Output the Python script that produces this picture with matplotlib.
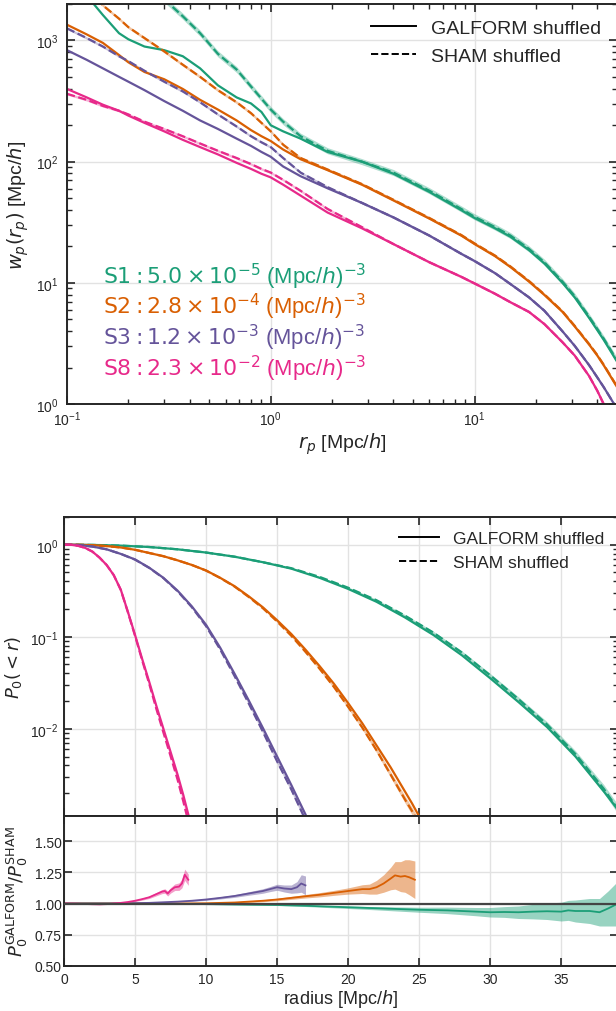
import numpy as np
import matplotlib
matplotlib.use("Agg")
import matplotlib.pyplot as plt
from matplotlib.lines import Line2D
from matplotlib.ticker import FixedLocator

plt.rcParams['font.family'] = ['Liberation Sans', 'DejaVu Sans']
plt.rcParams['mathtext.fontset'] = 'dejavusans'

samples = ['S1', 'S2', 'S3', 'S8']
colors = ['#1b9e77', '#d95f02', '#65549a', '#e7298a']
densities = [r'5.0\times10^{-5}', r'2.8\times10^{-4}', r'1.2\times10^{-3}', r'2.3\times10^{-2}']

# ---- projected correlation function, log10 wp ----
rp = [0.1, 0.125, 0.15, 0.18, 0.2, 0.24, 0.3, 0.37, 0.45, 0.55, 0.68, 0.8, 0.9, 1.0,
      1.15, 1.4, 1.9, 2.8, 4, 6, 8.6, 10, 12.6, 15, 18.5, 22, 27, 31, 36.5, 40, 43, 46, 50]

wp_galform = {
    'S1': [3.56, 3.37, 3.21, 3.06, 3.01, 2.95, 2.92, 2.87, 2.77, 2.63, 2.53, 2.48, 2.41, 2.30,
           2.25, 2.19, 2.08, 2.00, 1.90, 1.75, 1.60, 1.535, 1.45, 1.38, 1.27, 1.16, 1.00, 0.88,
           0.71, 0.61, 0.53, 0.45, 0.35],
    'S2': [3.13, 3.05, 2.98, 2.88, 2.82, 2.74, 2.68, 2.60, 2.51, 2.43, 2.34, 2.26, 2.21, 2.17,
           2.10, 2.02, 1.93, 1.81, 1.68, 1.53, 1.39, 1.32, 1.22, 1.13, 1.01, 0.90, 0.76, 0.64,
           0.49, 0.40, 0.32, 0.24, 0.14],
    'S3': [2.92, 2.84, 2.77, 2.70, 2.66, 2.59, 2.50, 2.42, 2.34, 2.27, 2.19, 2.13, 2.08, 2.04,
           1.96, 1.88, 1.78, 1.66, 1.54, 1.39, 1.24, 1.18, 1.08, 0.99, 0.88, 0.77, 0.60, 0.48,
           0.32, 0.22, 0.14, 0.06, -0.04],
    'S8': [2.60, 2.53, 2.47, 2.42, 2.38, 2.32, 2.25, 2.18, 2.12, 2.06, 1.99, 1.94, 1.90, 1.87,
           1.81, 1.72, 1.58, 1.45, 1.32, 1.17, 1.05, 0.995, 0.91, 0.84, 0.76, 0.66, 0.51, 0.40,
           0.23, 0.11, 0.00, -0.10, -0.22],
}
wp_sham = {
    'S1': [4.20, 4.00, 3.85, 3.70, 3.62, 3.48, 3.34, 3.20, 3.06, 2.89, 2.76, 2.62, 2.52, 2.43,
           2.33, 2.21, 2.09, 2.00, 1.91, 1.76, 1.61, 1.545, 1.46, 1.39, 1.28, 1.17, 1.01, 0.89,
           0.72, 0.62, 0.54, 0.46, 0.36],
    'S2': [3.52, 3.42, 3.29, 3.18, 3.11, 3.02, 2.91, 2.80, 2.70, 2.59, 2.49, 2.40, 2.32, 2.25,
           2.14, 2.03, 1.935, 1.815, 1.685, 1.535, 1.395, 1.325, 1.225, 1.135, 1.015, 0.905,
           0.765, 0.645, 0.495, 0.405, 0.325, 0.245, 0.145],
    'S3': [3.10, 3.02, 2.95, 2.87, 2.83, 2.75, 2.66, 2.58, 2.49, 2.39, 2.29, 2.21, 2.16, 2.12,
           2.03, 1.91, 1.79, 1.66, 1.54, 1.39, 1.24, 1.18, 1.08, 0.99, 0.88, 0.77, 0.60, 0.48,
           0.32, 0.22, 0.14, 0.06, -0.04],
    'S8': [2.56, 2.51, 2.46, 2.42, 2.39, 2.33, 2.27, 2.21, 2.15, 2.09, 2.03, 1.98, 1.94, 1.91,
           1.85, 1.76, 1.61, 1.46, 1.32, 1.17, 1.05, 0.995, 0.91, 0.84, 0.76, 0.66, 0.51, 0.40,
           0.23, 0.11, 0.00, -0.10, -0.22],
}
wp_band_dex = {'S1': 0.025, 'S2': 0.012, 'S3': 0.01, 'S8': 0.01}

# ---- void probability function, log10 P0 ----
p0_r = {
    'S1': [0, 2, 4, 6, 8, 10, 12, 14, 16, 18, 20, 22, 24, 26, 28, 30, 32, 34, 36, 38, 39],
    'S2': [0, 1, 2, 3, 4, 5, 6, 7, 8, 9, 10, 11, 12, 13, 14, 15, 16, 17, 18, 19, 20, 21, 22,
           23, 24, 24.5, 25],
    'S3': [0, 1, 2, 3, 4, 5, 6, 7, 8, 9, 10, 11, 12, 13, 14, 15, 16, 17, 17.3],
    'S8': [0, 0.5, 1, 1.5, 2, 2.5, 3, 3.5, 4, 4.5, 5, 5.5, 6, 6.5, 7, 7.5, 8, 8.4, 8.8],
}
p0_galform = {
    'S1': [0, -0.002, -0.01, -0.025, -0.05, -0.085, -0.13, -0.19, -0.26, -0.36, -0.48, -0.62,
           -0.79, -0.98, -1.20, -1.45, -1.71, -1.98, -2.30, -2.68, -2.88],
    'S2': [0, -0.001, -0.005, -0.015, -0.03, -0.055, -0.09, -0.125, -0.17, -0.22, -0.28, -0.36,
           -0.45, -0.56, -0.68, -0.82, -0.97, -1.14, -1.32, -1.51, -1.72, -1.94, -2.18, -2.42,
           -2.68, -2.81, -2.95],
    'S3': [0, -0.003, -0.02, -0.05, -0.10, -0.16, -0.25, -0.36, -0.50, -0.67, -0.87, -1.12,
           -1.40, -1.69, -1.99, -2.30, -2.61, -2.93, -3.03],
    'S8': [0, -0.001, -0.012, -0.035, -0.075, -0.14, -0.22, -0.33, -0.49, -0.73, -0.98, -1.24,
           -1.49, -1.75, -2.00, -2.25, -2.50, -2.72, -2.96],
}
p0_sham = {
    'S1': [0, -0.002, -0.01, -0.025, -0.05, -0.085, -0.13, -0.19, -0.255, -0.35, -0.467, -0.603,
           -0.77, -0.954, -1.17, -1.418, -1.678, -1.952, -2.273, -2.652, -2.875],
    'S2': [0, -0.001, -0.005, -0.015, -0.03, -0.055, -0.09, -0.125, -0.17, -0.22, -0.281, -0.362,
           -0.454, -0.567, -0.69, -0.834, -0.989, -1.164, -1.349, -1.545, -1.761, -1.987, -2.233,
           -2.499, -2.766, -2.893, -3.027],
    'S3': [0, -0.003, -0.02, -0.05, -0.10, -0.162, -0.252, -0.363, -0.506, -0.679, -0.884, -1.139,
           -1.425, -1.723, -2.031, -2.353, -2.658, -2.99, -3.09],
    'S8': [0, -0.001, -0.012, -0.035, -0.075, -0.14, -0.22, -0.33, -0.492, -0.735, -0.989, -1.255,
           -1.511, -1.783, -2.041, -2.295, -2.555, -2.79, -3.04],
}
p0_band_dex = {
    'S1': [0, 0, 0, 0, 0, 0.002, 0.003, 0.004, 0.005, 0.006, 0.008, 0.01, 0.012, 0.014, 0.017,
           0.02, 0.024, 0.03, 0.036, 0.045, 0.05],
    'S2': [0, 0, 0, 0, 0, 0, 0, 0.001, 0.002, 0.002, 0.003, 0.004, 0.005, 0.006, 0.007, 0.009,
           0.01, 0.012, 0.014, 0.016, 0.018, 0.022, 0.026, 0.032, 0.038, 0.04, 0.042],
    'S3': [0, 0, 0, 0.001, 0.002, 0.003, 0.004, 0.005, 0.006, 0.008, 0.01, 0.012, 0.014, 0.016,
           0.019, 0.022, 0.025, 0.03, 0.032],
    'S8': [0, 0, 0, 0, 0.001, 0.002, 0.003, 0.004, 0.005, 0.006, 0.008, 0.01, 0.012, 0.014,
           0.017, 0.02, 0.023, 0.027, 0.03],
}

# ---- ratio GALFORM / SHAM ----
ratio_r = {
    'S1': [0, 5, 10, 15, 17, 20, 22, 25, 27, 29, 30, 31, 32, 33, 34, 35, 35.5, 36, 37, 37.7, 38.3, 39],
    'S2': [0, 4, 8, 10, 12, 14, 15, 16, 17, 18, 19, 20, 21, 21.5, 22, 22.5, 23, 23.3, 23.7, 24, 24.3, 24.7],
    'S3': [0, 2, 4, 6, 8, 9, 10, 11, 12, 13, 13.5, 14, 14.5, 15, 15.5, 16, 16.4, 16.7, 17.0],
    'S8': [0, 1, 2, 2.5, 3, 3.5, 4, 4.5, 5, 5.5, 6, 6.3, 6.6, 6.9, 7.1, 7.3, 7.5, 7.8, 8.1, 8.3, 8.5, 8.75],
}
ratio_val = {
    'S1': [1.0, 1.0, 0.995, 0.988, 0.982, 0.97, 0.962, 0.95, 0.945, 0.935, 0.93, 0.932, 0.93, 0.935,
           0.938, 0.935, 0.945, 0.94, 0.94, 0.93, 0.96, 1.0],
    'S2': [1.0, 1.0, 1.0, 1.002, 1.008, 1.022, 1.032, 1.045, 1.058, 1.07, 1.085, 1.10, 1.115, 1.115,
           1.13, 1.16, 1.20, 1.225, 1.215, 1.22, 1.21, 1.19],
    'S3': [1.0, 1.0, 1.0, 1.005, 1.015, 1.022, 1.032, 1.045, 1.06, 1.08, 1.09, 1.10, 1.115, 1.13,
           1.12, 1.115, 1.13, 1.16, 1.145],
    'S8': [1.0, 0.998, 0.994, 0.993, 0.995, 1.0, 1.005, 1.012, 1.022, 1.035, 1.05, 1.065, 1.08, 1.095,
           1.10, 1.08, 1.105, 1.13, 1.135, 1.16, 1.23, 1.19],
}
ratio_err = {
    'S1': [0, 0, 0.002, 0.004, 0.006, 0.01, 0.013, 0.02, 0.026, 0.033, 0.038, 0.043, 0.05, 0.058,
           0.066, 0.075, 0.08, 0.088, 0.1, 0.11, 0.14, 0.18],
    'S2': [0, 0, 0.002, 0.003, 0.005, 0.008, 0.01, 0.012, 0.014, 0.017, 0.02, 0.025, 0.035, 0.04,
           0.055, 0.07, 0.09, 0.11, 0.12, 0.13, 0.14, 0.15],
    'S3': [0, 0, 0.001, 0.002, 0.004, 0.005, 0.007, 0.009, 0.011, 0.014, 0.016, 0.018, 0.02, 0.024,
           0.028, 0.033, 0.045, 0.07, 0.075],
    'S8': [0, 0, 0.001, 0.002, 0.002, 0.003, 0.004, 0.005, 0.006, 0.008, 0.01, 0.012, 0.014, 0.016,
           0.018, 0.02, 0.022, 0.026, 0.03, 0.035, 0.045, 0.045],
}

dark = '#262626'
W, H = 616, 1012
fig = plt.figure(figsize=(W / 100, H / 100), dpi=100)

def px_axes(left, top, right, bottom):
    return fig.add_axes([left / W, 1 - bottom / H, (right - left) / W, (bottom - top) / H])

def style(ax, xpad=4, ypad=4):
    for s in ax.spines.values():
        s.set_color(dark)
        s.set_linewidth(1.4)
    ax.tick_params(which='both', direction='in', top=True, right=True, colors=dark, labelsize=10)
    ax.tick_params(axis='x', pad=xpad)
    ax.tick_params(axis='y', pad=ypad)
    ax.tick_params(which='major', length=6, width=1.2)
    ax.tick_params(which='minor', length=3.5, width=1.0)
    ax.grid(True, which='major', color='#e2e2e2', lw=1.0)
    ax.set_axisbelow(True)

handles = [Line2D([], [], color='k', ls='-', lw=1.4), Line2D([], [], color='k', ls='--', lw=1.4)]
names = ['GALFORM shuffled', 'SHAM shuffled']
rticks = [0, 5, 10, 15, 20, 25, 30, 35]

# ----- top panel: wp(rp) -----
ax1 = px_axes(67, 5, 617, 405)
x = np.array(rp)
for s, c in zip(samples, colors):
    g = np.array(wp_galform[s])
    sh = np.array(wp_sham[s])
    e = wp_band_dex[s]
    ax1.fill_between(x, 10 ** (sh - e), 10 ** (sh + e), color=c, alpha=0.35, lw=0)
    ax1.plot(x, 10 ** sh, color=c, ls='--', lw=1.6)
    ax1.plot(x, 10 ** g, color=c, ls='-', lw=1.6)
ax1.set_xscale('log')
ax1.set_yscale('log')
ax1.set_xlim(0.1, 50)
ax1.set_ylim(1, 2000)
style(ax1, xpad=4, ypad=6)
ax1.set_xlabel(r'$r_p$ [Mpc/$h$]', fontsize=14, color=dark, labelpad=2)
ax1.set_ylabel(r'$w_p(r_p)$ [Mpc/$h$]', fontsize=14, color=dark)
for i, (s, c, d) in enumerate(zip(samples, colors, densities)):
    ax1.text(0.065, 0.3025 - 0.0765 * i, r'$\mathrm{%s:%s}$ (Mpc/$h$)$^{-3}$' % (s, d),
             transform=ax1.transAxes, color=c, fontsize=15.8, va='baseline')
ax1.legend(handles, names, loc='upper right', frameon=False, fontsize=14,
           handlelength=2.3, borderaxespad=0.4, labelcolor=dark)

# ----- middle panel: P0(<r) -----
ax2 = px_axes(64, 518, 618, 817)
for s, c in zip(samples, colors):
    r = np.array(p0_r[s])
    g = np.array(p0_galform[s])
    sh = np.array(p0_sham[s])
    e = np.array(p0_band_dex[s])
    ax2.fill_between(r, 10 ** (sh - e), 10 ** (sh + e), color=c, alpha=0.35, lw=0)
    ax2.plot(r, 10 ** sh, color=c, ls='--', lw=1.6)
    ax2.plot(r, 10 ** g, color=c, ls='-', lw=1.6)
ax2.set_yscale('log')
ax2.set_xlim(0, 39)
ax2.set_ylim(1.13e-3, 2.0)
ax2.xaxis.set_major_locator(FixedLocator(rticks))
style(ax2, ypad=4)
ax2.tick_params(labelbottom=False)
ax2.set_ylabel(r'$P_0(<r)$', fontsize=13, color=dark)
ax2.yaxis.set_label_coords(-0.072, 0.5)
ax2.legend(handles, names, loc='upper right', frameon=False, fontsize=12.5,
           handlelength=2.3, borderaxespad=0.4, labelcolor=dark)

# ----- bottom panel: ratio -----
ax3 = px_axes(64, 817, 618, 967)
for s, c in zip(samples, colors):
    r = np.array(ratio_r[s])
    v = np.array(ratio_val[s])
    e = np.array(ratio_err[s])
    ax3.fill_between(r, v - e, v + e, color=c, alpha=0.45, lw=0)
    ax3.plot(r, v, color=c, lw=1.3)
ax3.axhline(1.0, color='#444444', lw=1.6, zorder=5)
ax3.set_xlim(0, 39)
ax3.set_ylim(0.5, 1.7)
ax3.xaxis.set_major_locator(FixedLocator(rticks))
ax3.set_yticks([0.5, 0.75, 1.0, 1.25, 1.5])
ax3.set_yticklabels(['0.50', '0.75', '1.00', '1.25', '1.50'])
style(ax3, xpad=4, ypad=1.5)
ax3.set_xlabel(r'radius [Mpc/$h$]', fontsize=13, color=dark, labelpad=1)
ax3.set_ylabel(r'$P_0^{\rm GALFORM}/P_0^{\rm SHAM}$', fontsize=13, color=dark)
ax3.yaxis.set_label_coords(-0.062, 0.5)

fig.savefig('out.png', dpi=100)
